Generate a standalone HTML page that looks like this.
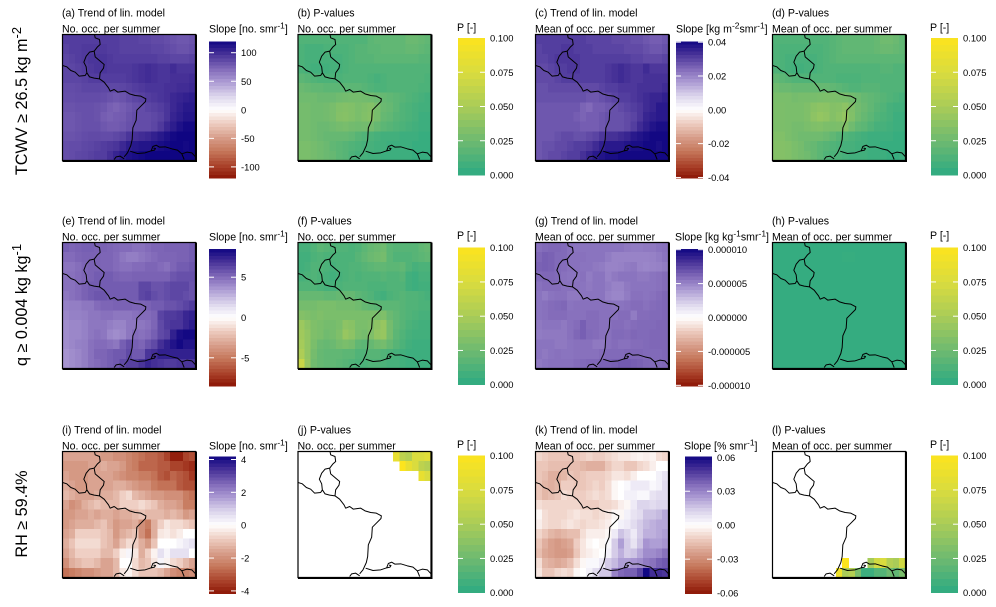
<!DOCTYPE html>
<html lang="en">
<head>
<meta charset="utf-8">
<title>Trend and P-value maps</title>
<style>
html,body{margin:0;padding:0;background:#fff;}
svg{display:block;}
text{font-family:"Liberation Sans",Arial,sans-serif;fill:#000;}
</style>
</head>
<body>
<svg id="chart" xmlns="http://www.w3.org/2000/svg" width="996" height="607" viewBox="0 0 996 607"></svg>
<script>
const N = null;
/* Slope [no. smr-1], panel (a) */
const slopeA = [
[92,92,92,92,92,92,92,92,92,90,90,90,88,88,86,86,84,82,80,80,82],
[90,92,92,94,94,94,94,92,92,90,90,90,90,90,88,88,86,84,82,82,84],
[88,90,92,94,96,96,96,94,92,92,92,92,92,92,92,90,90,88,88,88,90],
[88,88,90,92,94,96,96,94,94,94,94,96,98,100,98,96,96,100,96,96,96],
[88,88,88,90,92,92,92,92,92,92,94,96,98,100,98,96,96,98,98,98,100],
[85,85,86,88,88,88,87,87,87,88,90,92,94,96,96,96,98,98,100,100,102],
[84,84,85,85,85,85,84,82,80,82,85,88,90,92,94,96,98,102,104,106,108],
[82,82,83,83,83,82,80,76,74,77,80,83,85,88,90,92,96,102,106,110,110],
[80,80,82,83,83,82,77,75,77,78,82,85,85,85,87,90,96,104,108,112,112],
[80,80,82,83,83,83,80,78,78,80,83,85,85,85,88,94,102,108,114,118,118],
[82,82,83,85,86,86,85,85,87,90,96,98,100,102,106,110,114,118,120,120,120],
[84,85,85,87,88,90,92,94,96,102,108,110,112,112,114,116,118,120,120,118,120],
[84,85,87,88,90,92,92,98,104,110,114,116,118,120,120,120,120,120,120,120,120]];
/* P-value (per mille), panel (b) */
const pvalB = [
[14,14,14,14,14,14,14,14,14,14,14,18,20,20,20,20,20,24,24,22,20],
[12,10,10,10,12,12,12,12,14,16,16,18,18,20,20,20,20,22,22,20,18],
[12,10,10,10,10,10,10,12,14,16,16,16,18,18,18,18,18,18,18,16,16],
[12,10,8,8,8,10,10,12,14,14,14,14,14,14,14,14,14,14,14,14,14],
[18,16,14,12,12,12,12,14,14,14,14,12,10,12,14,14,14,14,14,14,12],
[24,22,20,20,18,18,18,18,18,18,16,14,12,12,14,14,14,14,14,12,12],
[26,26,26,24,24,24,26,27,28,28,27,26,24,22,20,18,16,14,12,10,8],
[28,28,26,26,27,29,33,34,33,30,32,34,29,24,22,18,14,12,10,8,8],
[28,28,26,26,27,29,34,35,33,30,33,35,29,22,20,16,14,12,10,6,6],
[28,28,26,24,24,26,28,29,27,26,27,27,22,18,16,14,12,10,8,6,6],
[28,28,26,24,22,22,22,22,20,16,14,12,10,8,8,8,6,6,6,4,4],
[30,30,28,26,24,20,18,16,14,12,10,10,8,8,6,6,6,6,4,4,4],
[30,30,28,26,24,22,18,16,12,10,10,8,8,6,6,6,6,6,4,4,4]];
/* Slope [kg m-2 smr-1] x 1e-3, panel (c) */
const slopeC = [
[31,31,31,31,31,31,31,31,30,30,30,30,29,29,29,28,28,27,26,26,27],
[30,31,31,31,32,32,31,31,31,30,30,30,30,30,29,29,29,28,27,27,28],
[30,30,31,32,32,32,32,31,31,31,31,31,31,31,31,30,30,29,29,29,30],
[29,29,30,31,31,32,32,31,31,31,31,32,33,34,33,32,32,34,32,32,32],
[29,29,29,30,31,31,31,31,31,31,31,32,33,34,33,32,32,33,33,33,33],
[28,28,29,29,29,29,29,29,29,29,30,31,31,32,32,32,33,33,33,33,34],
[28,28,28,28,28,28,28,28,27,27,28,29,30,31,31,32,33,34,35,35,36],
[27,27,27,27,27,27,27,25,24,26,26,27,28,29,30,31,32,34,35,37,37],
[27,27,27,27,27,27,26,25,26,26,27,28,28,28,29,30,32,35,36,37,37],
[27,27,27,27,27,27,27,26,26,26,27,28,28,28,29,31,34,36,38,39,39],
[27,27,27,28,29,29,28,28,29,30,32,33,33,34,35,37,38,39,40,40,40],
[27,28,28,29,29,30,31,31,32,34,36,37,37,37,38,39,39,40,40,39,40],
[27,28,29,29,30,31,31,33,35,37,38,39,39,40,40,40,40,40,40,40,40]];
/* P-value (per mille), panel (d) */
const pvalD = [
[14,14,14,14,14,14,14,14,14,16,18,20,20,20,20,20,22,26,26,24,20],
[13,12,12,12,12,12,12,12,14,16,18,20,20,20,20,20,22,24,24,22,20],
[13,12,10,10,10,10,10,12,14,16,18,18,18,18,18,18,18,18,18,18,18],
[13,12,10,8,8,10,10,12,14,14,14,14,14,14,14,14,14,16,16,14,14],
[20,18,16,14,14,14,14,14,14,14,12,12,12,12,14,14,14,14,14,14,14],
[26,24,24,22,22,22,22,22,22,20,18,16,14,14,16,16,16,14,14,14,14],
[30,30,30,28,29,29,29,30,31,31,30,29,27,25,22,20,18,16,14,12,10],
[31,31,30,30,30,32,36,38,37,34,35,38,32,27,24,20,16,14,10,8,8],
[31,31,30,30,30,32,38,41,39,34,37,41,33,26,22,18,14,12,10,6,6],
[31,31,30,28,28,30,32,33,31,30,31,33,26,20,18,14,10,10,8,6,6],
[33,33,30,28,26,26,26,26,24,20,16,14,12,10,8,6,6,6,6,4,4],
[34,34,33,30,28,24,22,18,16,14,12,10,10,8,8,6,6,4,4,4,4],
[34,34,33,30,28,26,22,18,14,12,12,10,8,8,8,6,6,6,4,4,6]];
/* Slope [no. smr-1], panel (e) */
const slopeE = [
[5.4,5.2,5.3,5.4,5.4,5.3,5.3,5.2,5.1,5,5,4.8,4.8,5,5.2,5.2,5.3,5.3,5.3,5.3,5.5],
[5,5,5.2,5.3,5.3,5.3,5.2,5.2,5,4.6,4.4,4.4,4.6,4.8,5,5.2,5.2,5.2,5.3,5.3,5.5],
[4.7,4.7,4.9,5.2,5.3,5.3,5.2,5.2,5,4.8,4.8,5,5,5.2,5.2,5,4.8,5.2,5.5,5.5,5.7],
[4.8,4.8,5,5.2,5.3,5.5,5.5,5.5,5.3,5.2,5.2,5.3,5.3,5.3,5.3,5.3,5.3,5.7,5.9,5.9,5.9],
[4.8,4.8,5,5.3,5.5,5.5,5.5,5.5,5.5,5.5,5.5,5.5,6.2,6.2,5.8,5.8,6,6.2,6.2,6.2,5.8],
[4.6,4.8,5,5.3,5.5,5.7,5.7,5.5,5.5,5.5,5.5,5.5,6.2,6.4,6,5.8,6,6.2,6.2,6,5.8],
[4.3,4.4,4.4,4.6,4.6,5,5.2,5.2,5.3,5.3,5.3,5.2,5.2,5.3,5.5,5.5,5.8,5.8,6,6.3,6.6],
[4.1,4.3,4.3,4.4,4.6,4.6,4.8,4.8,4.6,4.6,4.6,4.8,5,5,5.2,6.3,6.6,6.6,6.8,7.3,7.5],
[3.9,4.1,4.1,4.3,4.6,4.6,4.6,4.4,4.2,4.2,4.6,4.6,4.6,4.8,5.2,6.1,6.6,6.8,6.8,7.3,7.7],
[3.9,4.1,4.1,4.3,4.6,4.8,4.6,4.1,3.9,4.1,4.6,5,4.8,5,5.4,6.1,6.4,7.5,8.2,8.4,8.4],
[3.9,4.1,4.3,4.4,4.8,5,5,4.8,4.6,5.4,5.9,5.4,5.2,5.7,6.1,7,7.5,8,8.4,8,8],
[3.7,3.9,4.1,4.4,4.8,5.2,5.2,5.4,5.6,5.6,6.1,5.6,5.6,6.8,7,7.5,7.5,7.5,7.5,7.5,7.5],
[3.7,3.9,4.1,4.4,4.8,5,5.2,5.4,5.6,6.1,6.4,6.4,6.8,7.3,7,6.8,6.6,6.6,6.8,6.8,6.8]];
/* P-value (per mille), panel (f) */
const pvalF = [
[10,10,14,18,16,14,14,14,12,14,18,22,24,26,18,16,16,16,16,20,22],
[8,8,12,14,12,12,12,12,12,16,20,24,26,28,18,14,14,14,16,18,20],
[8,10,14,14,12,10,12,12,14,14,16,18,20,20,18,18,20,14,10,12,12],
[10,12,14,12,10,8,10,12,14,12,14,14,14,16,14,14,16,8,6,10,10],
[14,14,14,12,10,10,12,14,14,14,14,12,12,12,14,14,14,8,6,8,8],
[22,22,22,22,20,20,22,22,22,18,16,14,10,8,12,14,16,14,14,12,10],
[28,28,28,30,30,30,28,28,28,26,22,20,18,18,18,18,16,14,14,12,12],
[34,32,30,32,30,30,30,30,30,30,30,30,30,32,24,20,16,14,12,10,10],
[44,38,32,30,28,28,30,38,36,30,30,32,38,42,28,20,16,12,10,8,8],
[46,40,32,30,26,28,32,42,38,30,28,32,40,42,28,18,14,10,8,8,8],
[48,40,30,24,22,24,28,30,28,20,18,22,26,28,22,16,12,8,6,6,6],
[52,40,28,22,20,20,20,18,18,14,14,16,16,14,12,10,8,6,6,6,6],
[66,42,26,22,20,20,18,16,14,12,12,14,14,12,10,10,8,6,6,6,6]];
/* Slope [kg kg-1 smr-1] x 1e-6, panel (g) */
const slopeG = [
[5.8,6,6.1,6.1,6,5.7,5.6,5.6,5.6,5.6,5.6,5.6,5.6,5.6,5.4,5.3,5.3,5.4,5.4,5.6,5.7],
[6.1,6.4,6.3,6,6,5.7,5.7,5.7,5.6,5.6,5.6,5.3,5,5,5,5,5,5,5.1,5.3,5.6],
[6.3,6.4,6.3,6,5.9,5.7,5.7,5.6,5.6,5.4,5.3,5,5,5.1,5.3,5.4,5,4.9,5,5.1,5.3],
[6,6.1,6.1,6,5.7,5.6,5.6,5.7,5.3,5.6,5.6,5.1,5.4,5.6,5.6,5.6,5.4,5.4,5.6,5.7,5.9],
[5.7,5.9,5.9,5.9,5.7,5.7,5.7,5.6,5.4,5.6,5.6,5.3,5,5,5.4,5.6,5.6,5.6,5.6,5.7,5.9],
[5.6,5.3,5.6,5.7,5.7,5.4,5.4,5.6,5.6,5.6,5.6,5.1,4.9,4.9,5.3,5.7,5.7,5.6,5.7,5.9,6.1],
[5.6,5.7,5.9,6,6.1,5.6,5.7,5.7,5.7,5.7,5.7,5.7,5.6,5.6,5.7,5.9,5.9,5.7,5.9,6,6.1],
[5.6,5.7,5.9,5.9,5.9,5.7,5.7,5.7,5.9,5.9,5.7,5.7,5.7,5.9,5.9,5.3,5.9,5.9,6,6,6.1],
[5.4,5.6,5.6,5.6,5.4,5.7,5.9,6.4,5.9,5.9,5.7,5.7,5.9,5.9,5.7,5.9,6,6,6,6.1,6.1],
[5.3,5.4,5.4,5.4,5.4,5.7,6.1,6.4,6,5.9,5.7,5.7,6,6,5.9,6.1,6,6,6.1,6.1,6.1],
[5.6,5.6,5.6,5.4,5.4,5.6,5.7,5.7,5.7,5.4,5.4,5.7,5.9,5.7,5.7,5.9,5.9,6,6.1,6.1,6.1],
[5.6,5.4,5.6,5.7,5.6,5.6,5.7,5.7,5.7,5.7,5.9,6,6,6,6.1,6.1,6.1,6,6,6,6.1],
[5.4,5.6,5.7,5.7,5.7,5.7,5.9,6,6.1,6.1,6.3,6.3,6.4,6.6,6.6,6.4,6.3,6.1,6,6,6.1]];
/* P-value (per mille), panel (h) */
const pvalH = [
[3,3,3,3,3,3,3,3,3,3,3,3,3,3,3,3,3,3,3,3,3],
[3,3,3,3,3,3,3,3,3,3,3,4,4,3,3,3,3,3,3,3,3],
[3,3,3,3,3,3,3,3,3,3,3,3,3,3,3,3,3,3,3,3,3],
[3,3,3,3,3,3,3,3,3,3,3,3,3,3,3,3,3,3,3,3,3],
[3,3,3,3,3,3,3,3,3,3,3,3,3,3,3,3,3,3,3,3,3],
[3,3,3,3,3,3,3,3,3,3,3,3,3,3,3,3,3,3,3,3,3],
[3,3,3,3,3,3,3,3,3,3,3,3,3,3,3,3,3,3,3,3,3],
[3,3,3,3,3,3,3,3,3,3,3,3,3,3,3,3,3,3,3,3,3],
[3,3,3,3,3,3,3,3,3,3,3,3,3,3,3,3,3,3,3,3,3],
[3,3,3,3,3,3,3,3,3,3,3,3,3,3,3,3,3,3,3,3,3],
[3,3,3,3,3,3,3,3,3,3,3,3,3,3,3,3,3,3,3,3,3],
[3,3,3,3,3,3,3,3,3,3,3,3,3,3,3,3,3,3,3,3,3],
[3,3,3,3,3,3,3,3,3,3,3,3,3,3,3,3,3,3,3,3,3]];
/* Slope [no. smr-1], panel (i) */
const slopeI = [
[-1.6,-1.6,-1.6,-1.6,-1.6,-1.6,-1.8,-1.8,-2,-2,-2.2,-2.4,-2.6,-2.8,-2.8,-3,-3.4,-4,-4,-3.4,-3.2],
[-1.8,-1.8,-1.8,-1.8,-1.6,-1.6,-1.4,-1.6,-1.6,-1.8,-2.2,-2.4,-2.8,-2.8,-2.8,-3,-3,-3.4,-3.4,-3.6,-3.8],
[-1.6,-1.8,-1.8,-1.8,-1.6,-1.6,-1.6,-1.6,-1.8,-2,-2.2,-2.2,-2.4,-2.4,-2.6,-3,-3.2,-2.8,-3,-3.2,-3.6],
[-1.4,-1.6,-1.8,-1.8,-1.6,-1.6,-1.6,-1.6,-1.4,-1.4,-1.6,-1.8,-2,-2,-2.4,-2.6,-2.6,-2.6,-3,-3.2,-3.2],
[-1.2,-1.4,-1.6,-1.6,-1.6,-1.4,-1.4,-1.4,-1.2,-0.8,-0.6,-1.2,-1.4,-1.6,-1.8,-1.8,-2,-2,-2,-2.4,-2.6],
[-1.6,-2,-1.8,-1.4,-1.2,-1,-1.2,-1.2,-1.2,-0.8,-0.8,-0.8,-0.6,-0.8,-1,-1.4,-1.6,-1.6,-1.8,-2.4,-2.4],
[-1.8,-1.8,-1.6,-1.6,-1.4,-1.6,-1.4,-1.4,-1.6,-1.4,-1.4,-1.2,-1,-1.2,-1.2,-1.2,-1.4,-1.2,-1.4,-1.8,-1.6],
[-1.8,-1.6,-1.4,-1.4,-1.4,-1.2,-1,-1.4,-1.8,-1.6,-1.6,-1.4,-2,-2.4,-1.4,-0.8,-0.4,-0.6,-0.6,-0.8,-1],
[-1.6,-1.4,-0.8,-0.8,-0.8,-0.8,-1,-1.2,-1.8,-1.4,-1.2,-1,-2,-2.6,-1.4,-0.4,-0.3,-0.5,-0.3,0,0],
[-1.4,-1,-0.6,-0.6,-0.6,-0.6,-1,-1.2,-1.6,-1,-0.6,-0.8,-1.4,-1.8,-1,0,0,0,0.2,0.4,0.6],
[-1.6,-1.2,-0.8,-0.8,-0.8,-0.8,-1.2,-1.2,-0.8,-0.2,0.2,-0.4,-1.4,-0.8,-0.2,0.6,0.2,0.6,0.6,0.6,0],
[-2,-1.4,-1.2,-1,-1,-1.2,-1.6,-1.6,-1.2,0,0,-0.6,-1.2,-1,-0.4,0.2,-0.2,-0.6,-0.8,-1.2,-1.6],
[-2.6,-2.4,-2.2,-2,-2,-1.8,-1.6,-1.6,-1.2,-0.4,-0.2,-0.6,-1,-1,-1,-1.2,-1.6,-2,-2.2,-2.2,-2]];
/* P-value (per mille), panel (j); empty cells are not significant */
const pvalJ = [
[N,N,N,N,N,N,N,N,N,N,N,N,N,N,N,85,60,55,75,75,80],
[N,N,N,N,N,N,N,N,N,N,N,N,N,N,N,N,100,85,75,60,55],
[N,N,N,N,N,N,N,N,N,N,N,N,N,N,N,N,N,N,N,85,75],
[N,N,N,N,N,N,N,N,N,N,N,N,N,N,N,N,N,N,N,N,N],
[N,N,N,N,N,N,N,N,N,N,N,N,N,N,N,N,N,N,N,N,N],
[N,N,N,N,N,N,N,N,N,N,N,N,N,N,N,N,N,N,N,N,N],
[N,N,N,N,N,N,N,N,N,N,N,N,N,N,N,N,N,N,N,N,N],
[N,N,N,N,N,N,N,N,N,N,N,N,N,N,N,N,N,N,N,N,N],
[N,N,N,N,N,N,N,N,N,N,N,N,N,N,N,N,N,N,N,N,N],
[N,N,N,N,N,N,N,N,N,N,N,N,N,N,N,N,N,N,N,N,N],
[N,N,N,N,N,N,N,N,N,N,N,N,N,N,N,N,N,N,N,N,N],
[N,N,N,N,N,N,N,N,N,N,N,N,N,N,N,N,N,N,N,N,N],
[N,N,N,N,N,N,N,N,N,N,N,N,N,N,N,N,N,N,N,N,N]];
/* Slope [% smr-1] x 1e-3, panel (k) */
const slopeK = [
[-10,-12,-14,-14,-14,-14,-14,-12,-10,-12,-12,-10,-8,-6,-6,-4,-3,-4,-3,-8,-10],
[-14,-14,-16,-16,-16,-16,-16,-18,-20,-20,-20,-14,-10,-10,-14,-14,-10,-8,-4,0,0],
[-14,-16,-20,-20,-18,-14,-16,-14,-12,-12,-12,-10,-6,-6,-8,-4,0,0,0,4,8],
[-14,-18,-20,-18,-12,-12,-14,-14,-12,-10,-12,-8,-2,0,2,6,6,6,2,4,10],
[-14,-18,-16,-14,-8,-10,-12,-12,-10,-8,-10,-8,-2,0,4,4,2,2,8,10,10],
[-8,-10,-10,-10,-10,-10,-10,-12,-12,-12,-10,-10,-8,-4,-2,6,12,12,10,12,12],
[-2,-8,-10,-10,-10,-8,-6,-8,-8,-10,-8,-6,-2,-2,4,8,10,16,16,18,22],
[-4,-8,-10,-10,-8,-6,-8,-10,-8,-8,-6,-4,0,4,6,10,14,18,20,22,22],
[-10,-14,-18,-20,-18,-16,-16,-8,-4,-4,-4,-2,6,16,12,6,14,20,20,22,24],
[-14,-20,-24,-26,-24,-22,-12,-6,-2,0,-2,2,14,24,14,8,16,26,24,24,26],
[-16,-22,-24,-26,-26,-24,-14,-6,-4,-2,0,4,14,20,14,16,22,28,28,30,34],
[-8,-18,-20,-22,-20,-16,-8,-2,2,2,6,14,18,24,24,26,28,32,34,38,40],
[-6,-14,-14,-10,-8,-10,-2,0,4,10,15,15,30,36,38,38,45,60,50,50,48]];
/* P-value (per mille), panel (l); empty cells are not significant */
const pvalL = [
[N,N,N,N,N,N,N,N,N,N,N,N,N,N,N,N,N,N,N,N,N],
[N,N,N,N,N,N,N,N,N,N,N,N,N,N,N,N,N,N,N,N,N],
[N,N,N,N,N,N,N,N,N,N,N,N,N,N,N,N,N,N,N,N,N],
[N,N,N,N,N,N,N,N,N,N,N,N,N,N,N,N,N,N,N,N,N],
[N,N,N,N,N,N,N,N,N,N,N,N,N,N,N,N,N,N,N,N,N],
[N,N,N,N,N,N,N,N,N,N,N,N,N,N,N,N,N,N,N,N,N],
[N,N,N,N,N,N,N,N,N,N,N,N,N,N,N,N,N,N,N,N,N],
[N,N,N,N,N,N,N,N,N,N,N,N,N,N,N,N,N,N,N,N,N],
[N,N,N,N,N,N,N,N,N,N,N,N,N,N,N,N,N,N,N,N,N],
[N,N,N,N,N,N,N,N,N,N,N,N,N,N,N,N,N,N,N,N,N],
[N,N,N,N,N,N,N,N,N,N,N,N,N,N,N,N,N,N,N,N,N],
[N,N,N,N,N,N,N,N,N,N,N,100,N,N,N,48,70,75,55,50,70],
[N,N,N,N,N,N,N,N,N,N,90,50,55,30,6,6,15,15,25,20,30]];

/* Colour-bar ticks: values in panel units, printed labels */
const ticksA = [100,50,0,-50,-100];
const tickLabelsA = ["100","50","0","-50","-100"];
const ticksC = [40,20,0,-20,-40];
const tickLabelsC = ["0.04","0.02","0.00","-0.02","-0.04"];
const ticksE = [5,0,-5];
const tickLabelsE = ["5","0","-5"];
const ticksG = [10,5,0,-5,-10];
const tickLabelsG = ["0.000010","0.000005","0.000000","-0.000005","-0.000010"];
const ticksI = [4,2,0,-2,-4];
const tickLabelsI = ["4","2","0","-2","-4"];
const ticksK = [60,30,0,-30,-60];
const tickLabelsK = ["0.06","0.03","0.00","-0.03","-0.06"];
const ticksP = [100,75,50,25,0];
const tickLabelsP = ["0.100","0.075","0.050","0.025","0.000"];

/* Panel text */
const panelLetters = ["a","b","c","d","e","f","g","h","i","j","k","l"];
const subtitleNo = "No. occ. per summer";
const subtitleMean = "Mean of occ. per summer";

/* Layout */
const columnLeft = [62.5,298,535.5,772.5];
const rowTop = [34.5,242.5,451.5];
const PANEL_W = 133, PANEL_H = 126, N_COLS = 21, N_ROWS = 13;
const slopeBarTop = [41.3,249,456.7];
const pBarTop = [38,247.7,455.7];
const BAR_W = 27, BAR_H = 137;

const svg = document.getElementById("chart");
const NS = "http://www.w3.org/2000/svg";
function mk(tag, attrs, parent) {
  const el = document.createElementNS(NS, tag);
  for (const k in attrs) el.setAttribute(k, attrs[k]);
  (parent || svg).appendChild(el);
  return el;
}
/* rich text: [text, isSuperscript] pieces */
function richText(el, pieces, size) {
  let up = false;
  pieces.forEach(p => {
    const t = document.createElementNS(NS, "tspan");
    const sup = !!p[1];
    if (sup && !up) t.setAttribute("dy", -size * 0.38);
    if (!sup && up) t.setAttribute("dy", size * 0.38);
    if (sup) t.setAttribute("font-size", size * 0.8);
    t.textContent = p[0];
    el.appendChild(t);
    up = sup;
  });
}

const slopeStops = [[-1,140,21,5],[-.83,168,63,40],[-.6,198,120,92],[-.42,214,155,135],[-.2,238,205,193],[0,255,255,255],[.2,220,213,236],[.42,169,151,210],[.6,128,104,184],[.83,66,45,149],[1,15,5,130]];
const pStops = [[0,45,170,130],[.25,110,186,112],[.5,170,204,88],[.75,218,220,62],[1,252,228,30]];
function stopColor(stops, t) {
  t = Math.max(stops[0][0], Math.min(stops[stops.length - 1][0], t));
  for (let i = 1; i < stops.length; i++) {
    if (t <= stops[i][0]) {
      const a = stops[i - 1], b = stops[i], f = (t - a[0]) / (b[0] - a[0]);
      return "rgb(" + [1,2,3].map(c => Math.round(a[c] + (b[c] - a[c]) * f)).join(",") + ")";
    }
  }
  return "rgb(0,0,0)";
}
const xCell = (panelX, col) => panelX + col * PANEL_W / N_COLS;
const yCell = (panelY, row) => panelY + row * PANEL_H / N_ROWS;

const boundaryPaths = "M133,125 L135,135 L148,140 L150,155 L142,162 L132,175 L118,178 L108,190 L101,208 L108,222 L110,240 M132,175 L135,192 L150,205 L162,215 L160,226 L150,240 L148,258 M110,240 L118,252 L132,256 L148,258 M37,218 L50,222 L62,233 L75,238 L87,250 L105,248 L110,240 M148,258 L162,268 L175,285 L180,295 L192,290 L203,298 L225,295 L238,303 L255,308 L272,310 L287,318 L286,326 L272,340 L260,352 L258,382 L248,405 L246,440 L242,458 L232,480 L222,492 M192,500 L198,492 L210,490 L222,498 M240,475 L262,482 L285,480 L303,474 L308,461 L318,457 L328,463 L345,462 L365,468 L382,472 L395,483 L410,478 L425,480 L436,492 M303,474 L313,472 L316,467 L310,466 M395,483 L402,500";

const clipDefs = mk("defs", {});

function drawPanel(i, cfg) {
  const rowIdx = Math.floor(i / 4), colIdx = i % 4;
  const px = columnLeft[colIdx], py = rowTop[rowIdx];
  const g = mk("g", {});
  
  

  const title = mk("text", {x: px - 0.5, y: py - 18, "font-size": 10.6}, g);
  
  
  title.textContent = "(" + panelLetters[i] + ") " + cfg.title;

  const sub = mk("text", {x: px - 0.5, y: py - 2, "font-size": 10.6}, g);
  
  
  sub.textContent = cfg.subtitle;

  const cells = mk("g", {"shape-rendering": "crispEdges"}, g);
  
  
  cfg.values.forEach((rowVals, r) => {
    rowVals.forEach((v, c) => {
      if (v === null) return;
      const x0 = xCell(px, c), x1 = xCell(px, c + 1), y0 = yCell(py, r), y1 = yCell(py, r + 1);
      const rect = mk("rect", {x: x0, y: y0, width: x1 - x0 + 0.3, height: y1 - y0 + 0.3, fill: cfg.color(v)}, cells);
      
      
    });
  });

  const clip = mk("clipPath", {id: "clip-" + i}, clipDefs);
  mk("rect", {x: px, y: py, width: PANEL_W, height: PANEL_H}, clip);
  const clipG = mk("g", {"clip-path": "url(#clip-" + i + ")"}, g);
  const border = mk("path", {
    d: boundaryPaths,
    transform: "translate(" + (px - 37 / 3) + "," + (py - 125 / 3) + ") scale(" + (1 / 3) + ")",
    fill: "none", stroke: "#000", "stroke-width": 3, "stroke-linejoin": "round"
  }, clipG);
  
  

  const frame = mk("path", {
    d: "M" + px + "," + (py + PANEL_H) + " V" + py + " H" + (px + PANEL_W) + " V" + (py + PANEL_H) + " Z",
    fill: "none", stroke: "#000", "stroke-width": 1.2
  }, g);
  
  
  const heavy = mk("path", {
    d: "M" + px + "," + (py + PANEL_H + 0.5) + " H" + (px + PANEL_W + 0.5) + " V" + py,
    fill: "none", stroke: "#000", "stroke-width": 2
  }, g);
  
  

  /* Colour bar */
  const lg = mk("g", {}, g);
  
  
  const barTop = cfg.isP ? pBarTop[rowIdx] : slopeBarTop[rowIdx];
  const levels = cfg.isP ? 20 : 40;
  const steps = mk("g", {"shape-rendering": "crispEdges"}, lg);
  
  
  const bandH = BAR_H / levels;
  for (let k = 0; k < levels; k++) {
    const frac = (k + 0.5) / levels;               /* 0 = top of bar */
    const val = cfg.isP ? cfg.dmax * (1 - frac) : cfg.dmax * (1 - 2 * frac);
    const band = mk("rect", {x: cfg.barX, y: barTop + k * bandH, width: BAR_W, height: bandH + 0.4, fill: cfg.color(val)}, steps);
    
    
  }
  const yBar = v => cfg.isP ? barTop + BAR_H * (1 - v / cfg.dmax) : barTop + BAR_H / 2 * (1 - v / cfg.dmax);
  cfg.ticks.forEach((v, t) => {
    const y = Math.min(barTop + BAR_H, Math.max(barTop, yBar(v)));
    const showMarks = v !== 0 && y > barTop + 0.6 && y < barTop + BAR_H - 0.6;
    if (showMarks) {
      [[cfg.barX, cfg.barX + 5],[cfg.barX + BAR_W - 5, cfg.barX + BAR_W]].forEach(p => {
        const m = mk("line", {x1: p[0], x2: p[1], y1: y, y2: y, stroke: "#fff", "stroke-width": 1}, lg);
        
        
      });
    }
    const lab = mk("text", {x: cfg.barX + BAR_W + 5, y: yBar(v) + 3.5, "font-size": 9.4}, lg);
    
    
    lab.textContent = cfg.tickLabels[t];
  });
  const lt = mk("text", {x: cfg.titleX, y: cfg.isP ? py - 3.5 : py - 2, "font-size": 10.6}, lg);
  
  
  richText(lt, cfg.barTitle, 10.6);
}

const slopeColor = dmax => v => stopColor(slopeStops, v / dmax);
const pColor = v => stopColor(pStops, v / 100);
const pPanel = (values, subtitle, barX) => ({title: "P-values", subtitle, values, color: pColor, isP: true, dmax: 100, ticks: ticksP, tickLabels: tickLabelsP, barX, titleX: barX - 1, barTitle: [["P [-]"]]});
const noSmr = [["Slope [no. smr"],["-1",1],["]"]];

const panels = [
 {title:"Trend of lin. model", subtitle:subtitleNo, values:slopeA, color:slopeColor(120), dmax:120, ticks:ticksA, tickLabels:tickLabelsA, barX:209, titleX:209, barTitle:noSmr},
 pPanel(pvalB, subtitleNo, 458),
 {title:"Trend of lin. model", subtitle:subtitleMean, values:slopeC, color:slopeColor(40.5), dmax:40.5, ticks:ticksC, tickLabels:tickLabelsC, barX:676, titleX:676, barTitle:[["Slope [kg m"],["-2",1],["smr"],["-1",1],["]"]]},
 pPanel(pvalD, subtitleMean, 931),
 {title:"Trend of lin. model", subtitle:subtitleNo, values:slopeE, color:slopeColor(8.5), dmax:8.5, ticks:ticksE, tickLabels:tickLabelsE, barX:209, titleX:209, barTitle:noSmr},
 pPanel(pvalF, subtitleNo, 458),
 {title:"Trend of lin. model", subtitle:subtitleMean, values:slopeG, color:slopeColor(10.1), dmax:10.1, ticks:ticksG, tickLabels:tickLabelsG, barX:676, titleX:675, barTitle:[["Slope [kg kg"],["-1",1],["smr"],["-1",1],["]"]]},
 pPanel(pvalH, subtitleMean, 931),
 {title:"Trend of lin. model", subtitle:subtitleNo, values:slopeI, color:slopeColor(4.17), dmax:4.17, ticks:ticksI, tickLabels:tickLabelsI, barX:209, titleX:209, barTitle:noSmr},
 pPanel(pvalJ, subtitleNo, 458),
 {title:"Trend of lin. model", subtitle:subtitleMean, values:slopeK, color:slopeColor(60.5), dmax:60.5, ticks:ticksK, tickLabels:tickLabelsK, barX:685, titleX:684, barTitle:[["Slope [% smr"],["-1",1],["]"]]},
 pPanel(pvalL, subtitleMean, 931)
];
panels.forEach((cfg, i) => drawPanel(i, cfg));

/* Row labels */
const rowLabels = [
 {y:101, pieces:[["TCWV \u2265 26.5 kg m"],["-2",1]]},
 {y:305, pieces:[["q \u2265 0.004 kg kg"],["-1",1]]},
 {y:514, pieces:[["RH \u2265 59.4%"]]}
];
rowLabels.forEach(r => {
  const t = mk("text", {x: 0, y: 0, "font-size": 16.2, "text-anchor": "middle", transform: "translate(27," + r.y + ") rotate(-90)"});
  
  
  richText(t, r.pieces, 16.2);
});
</script>
</body>
</html>
